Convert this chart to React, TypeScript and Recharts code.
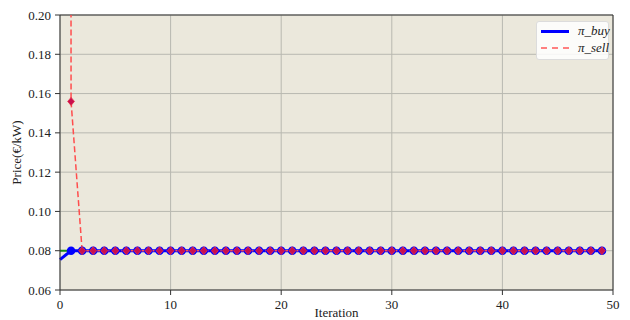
import React from 'react'
import { CartesianGrid, Line, LineChart, ReferenceLine, XAxis, YAxis, Label } from 'recharts'

const iterations = [
  0, 1, 2, 3, 4, 5, 6, 7, 8, 9, 10, 11, 12, 13, 14, 15, 16, 17, 18, 19, 20, 21, 22, 23, 24,
  25, 26, 27, 28, 29, 30, 31, 32, 33, 34, 35, 36, 37, 38, 39, 40, 41, 42, 43, 44, 45, 46, 47, 48, 49,
]

const piBuy = [
  0.0755, 0.08, 0.08, 0.08, 0.08, 0.08, 0.08, 0.08, 0.08, 0.08, 0.08, 0.08, 0.08, 0.08, 0.08, 0.08, 0.08,
  0.08, 0.08, 0.08, 0.08, 0.08, 0.08, 0.08, 0.08, 0.08, 0.08, 0.08, 0.08, 0.08, 0.08, 0.08, 0.08, 0.08,
  0.08, 0.08, 0.08, 0.08, 0.08, 0.08, 0.08, 0.08, 0.08, 0.08, 0.08, 0.08, 0.08, 0.08, 0.08, 0.08,
]

const piSell = [
  12.0, 0.156, 0.08, 0.08, 0.08, 0.08, 0.08, 0.08, 0.08, 0.08, 0.08, 0.08, 0.08, 0.08, 0.08, 0.08, 0.08,
  0.08, 0.08, 0.08, 0.08, 0.08, 0.08, 0.08, 0.08, 0.08, 0.08, 0.08, 0.08, 0.08, 0.08, 0.08, 0.08, 0.08,
  0.08, 0.08, 0.08, 0.08, 0.08, 0.08, 0.08, 0.08, 0.08, 0.08, 0.08, 0.08, 0.08, 0.08, 0.08, 0.08,
]

// flat reference level peeking out at the left edge
const piGrid = [0.08, 0.08]

const xTicks = [0, 10, 20, 30, 40, 50]
const yTicks = [0.06, 0.08, 0.1, 0.12, 0.14, 0.16, 0.18, 0.2]

const data = iterations.map((it, i) => ({
  it,
  buy: piBuy[i],
  sell: piSell[i],
  grid: piGrid[i],
}))

const FONT = '"Liberation Serif", "DejaVu Serif", serif'
const textStyle = { fill: '#222', fontSize: 13, fontFamily: FONT }

const XTick = (props: any) => {
  const { x, y, payload } = props
  return (
    <text x={x} y={y + 12} textAnchor="middle" fill="#222" fontSize={13} style={{ fontFamily: FONT }}>
      {payload.value}
    </text>
  )
}

const YTick = (props: any) => {
  const { x, y, payload } = props
  return (
    <text x={x - 2} y={y + 4.5} textAnchor="end" fill="#222" fontSize={13} style={{ fontFamily: FONT }}>
      {Number(payload.value).toFixed(2)}
    </text>
  )
}

const Diamond = (props: any) => {
  const { cx, cy, index } = props
  if (cx == null || cy == null) return <g key={index} />
  const r = 4
  return (
    <path
      key={index}
      d={`M${cx},${cy - r} L${cx + r * 0.85},${cy} L${cx},${cy + r} L${cx - r * 0.85},${cy} Z`}
      fill="#c8104e"
      stroke="#e8304a"
      strokeWidth={0.8}
    />
  )
}

const BuyDot = (props: any) => {
  const { cx, cy, index } = props
  // no marker on the very first iterate
  if (cx == null || cy == null || index === 0) return <g key={index} />
  return <circle key={index} cx={cx} cy={cy} r={4.3} fill="#0000ff" />
}

const LegendBox = () => (
  <div
    style={{
      position: 'absolute',
      left: 536,
      top: 21,
      width: 71,
      height: 37,
      background: 'rgba(255,255,255,0.85)',
      border: '1px solid #dcdcdc',
      borderRadius: 3,
      fontFamily: FONT,
      fontStyle: 'italic',
      fontSize: 13,
      color: '#222',
    }}
  >
    <div style={{ position: 'absolute', left: 4, top: 8, width: 28, height: 3, background: '#0000ff' }} />
    <div style={{ position: 'absolute', left: 41, top: 1 }}>π_buy</div>
    <div
      style={{
        position: 'absolute',
        left: 4,
        top: 25,
        width: 28,
        height: 0,
        borderTop: '2px dashed #ff8080',
      }}
    />
    <div style={{ position: 'absolute', left: 41, top: 18 }}>π_sell</div>
  </div>
)

export default function App() {
  return (
    <div
      style={{
        position: 'absolute',
        left: 0,
        top: 0,
        width: 630,
        height: 320,
        background: '#fff',
        fontFamily: FONT,
      }}
    >
      <LineChart
        width={630}
        height={320}
        data={data}
        margin={{ top: 15, right: 17, left: 0, bottom: 0 }}
        style={{ fontFamily: FONT }}
      >
        <CartesianGrid stroke="#b8b8b0" strokeWidth={1} fill="#ebe8dc" ticks={xTicks} />
        <XAxis
          dataKey="it"
          type="number"
          domain={[0, 50]}
          ticks={xTicks}
          height={30}
          tickSize={5}
          stroke="#333"
          tick={<XTick />}
        >
          <Label value="Iteration" position="insideBottom" offset={3} style={textStyle} />
        </XAxis>
        <YAxis
          type="number"
          domain={[0.06, 0.2]}
          ticks={yTicks}
          allowDataOverflow
          width={60}
          tickSize={5}
          stroke="#333"
          tick={<YTick />}
        >
          <Label
            value="Price(€/kW)"
            angle={-90}
            position="insideLeft"
            offset={16}
            style={{ ...textStyle, textAnchor: 'middle' }}
          />
        </YAxis>
        <ReferenceLine y={0.2} stroke="#333" strokeWidth={1} />
        <ReferenceLine x={50} stroke="#333" strokeWidth={1} />
        <Line dataKey="grid" stroke="#1a8a1a" strokeWidth={2} dot={false} isAnimationActive={false} />
        <Line dataKey="buy" stroke="#0000ff" strokeWidth={3} dot={BuyDot} isAnimationActive={false} />
        <Line
          dataKey="sell"
          stroke="#ff4d4d"
          strokeWidth={1.5}
          strokeDasharray="6 3"
          dot={Diamond}
          isAnimationActive={false}
        />
      </LineChart>
      <LegendBox />
    </div>
  )
}
